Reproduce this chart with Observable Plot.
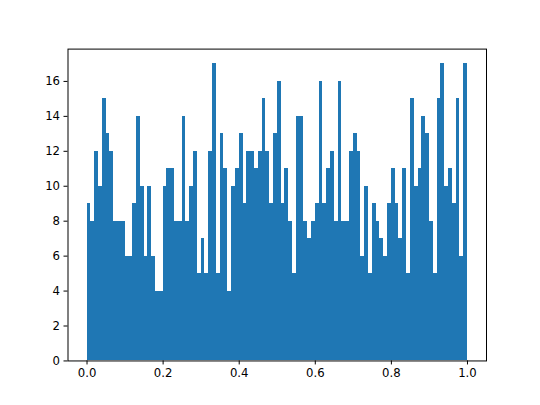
<!DOCTYPE html>
<html>
<head>
<meta charset="utf-8">
<script src="https://cdn.jsdelivr.net/npm/d3@7"></script>
<script src="https://cdn.jsdelivr.net/npm/@observablehq/plot@0.6"></script>
<style>
  html, body { margin: 0; padding: 0; background: #fff; }
  svg { display: block; }
</style>
</head>
<body>
<div id="chart"></div>
<script>
// Histogram counts for 100 equal bins over [0, 1]
const counts = [
  9, 8, 12, 10, 15, 13, 12, 8, 8, 8,
  6, 6, 9, 14, 10, 6, 10, 6, 4, 4,
  10, 11, 11, 8, 8, 14, 8, 10, 12, 5,
  7, 5, 12, 17, 5, 13, 11, 4, 10, 11,
  13, 9, 12, 12, 11, 12, 15, 12, 9, 13,
  16, 9, 11, 8, 5, 14, 14, 8, 7, 8,
  9, 16, 9, 11, 12, 8, 16, 8, 8, 12,
  13, 12, 6, 10, 5, 9, 8, 7, 6, 9,
  11, 9, 7, 11, 5, 15, 10, 11, 14, 13,
  8, 5, 15, 17, 10, 11, 9, 15, 6, 17
];
const binRange = [0, 1];
const xTicks = [0, 0.2, 0.4, 0.6, 0.8, 1.0];
const yTicks = [0, 2, 4, 6, 8, 10, 12, 14, 16];

const nBins = counts.length;
const binW = (binRange[1] - binRange[0]) / nBins;
const bins = counts.map((c, i) => ({
  x1: binRange[0] + i * binW,
  x2: binRange[0] + (i + 1) * binW,
  count: c
}));
const ymax = d3.max(counts) * 1.05;
const xpad = (binRange[1] - binRange[0]) * 0.05;

const chart = Plot.plot({
  width: 540,
  height: 405,
  marginLeft: 67.5,
  marginRight: 54,
  marginTop: 48.6,
  marginBottom: 44.55,
  style: { fontFamily: "DejaVu Sans", fontSize: "11.7px", color: "#000", background: "#fff" },
  x: { domain: [binRange[0] - xpad, binRange[1] + xpad], label: null },
  y: { domain: [0, ymax], label: null },
  marks: [
    Plot.rectY(bins, { x1: "x1", x2: "x2", y: "count", fill: "#1f77b4", shapeRendering: "crispEdges" }),
    Plot.frame({ stroke: "#000", strokeWidth: 1 }),
    Plot.axisX({ ticks: xTicks, tickFormat: d => d.toFixed(1), tickSize: 4, tickPadding: 4, fontSize: 11.7, label: null }),
    Plot.axisY({ ticks: yTicks, tickFormat: d => String(d), tickSize: 4, tickPadding: 4, fontSize: 11.7, label: null })
  ]
});
document.getElementById("chart").appendChild(chart);
</script>
</body>
</html>
